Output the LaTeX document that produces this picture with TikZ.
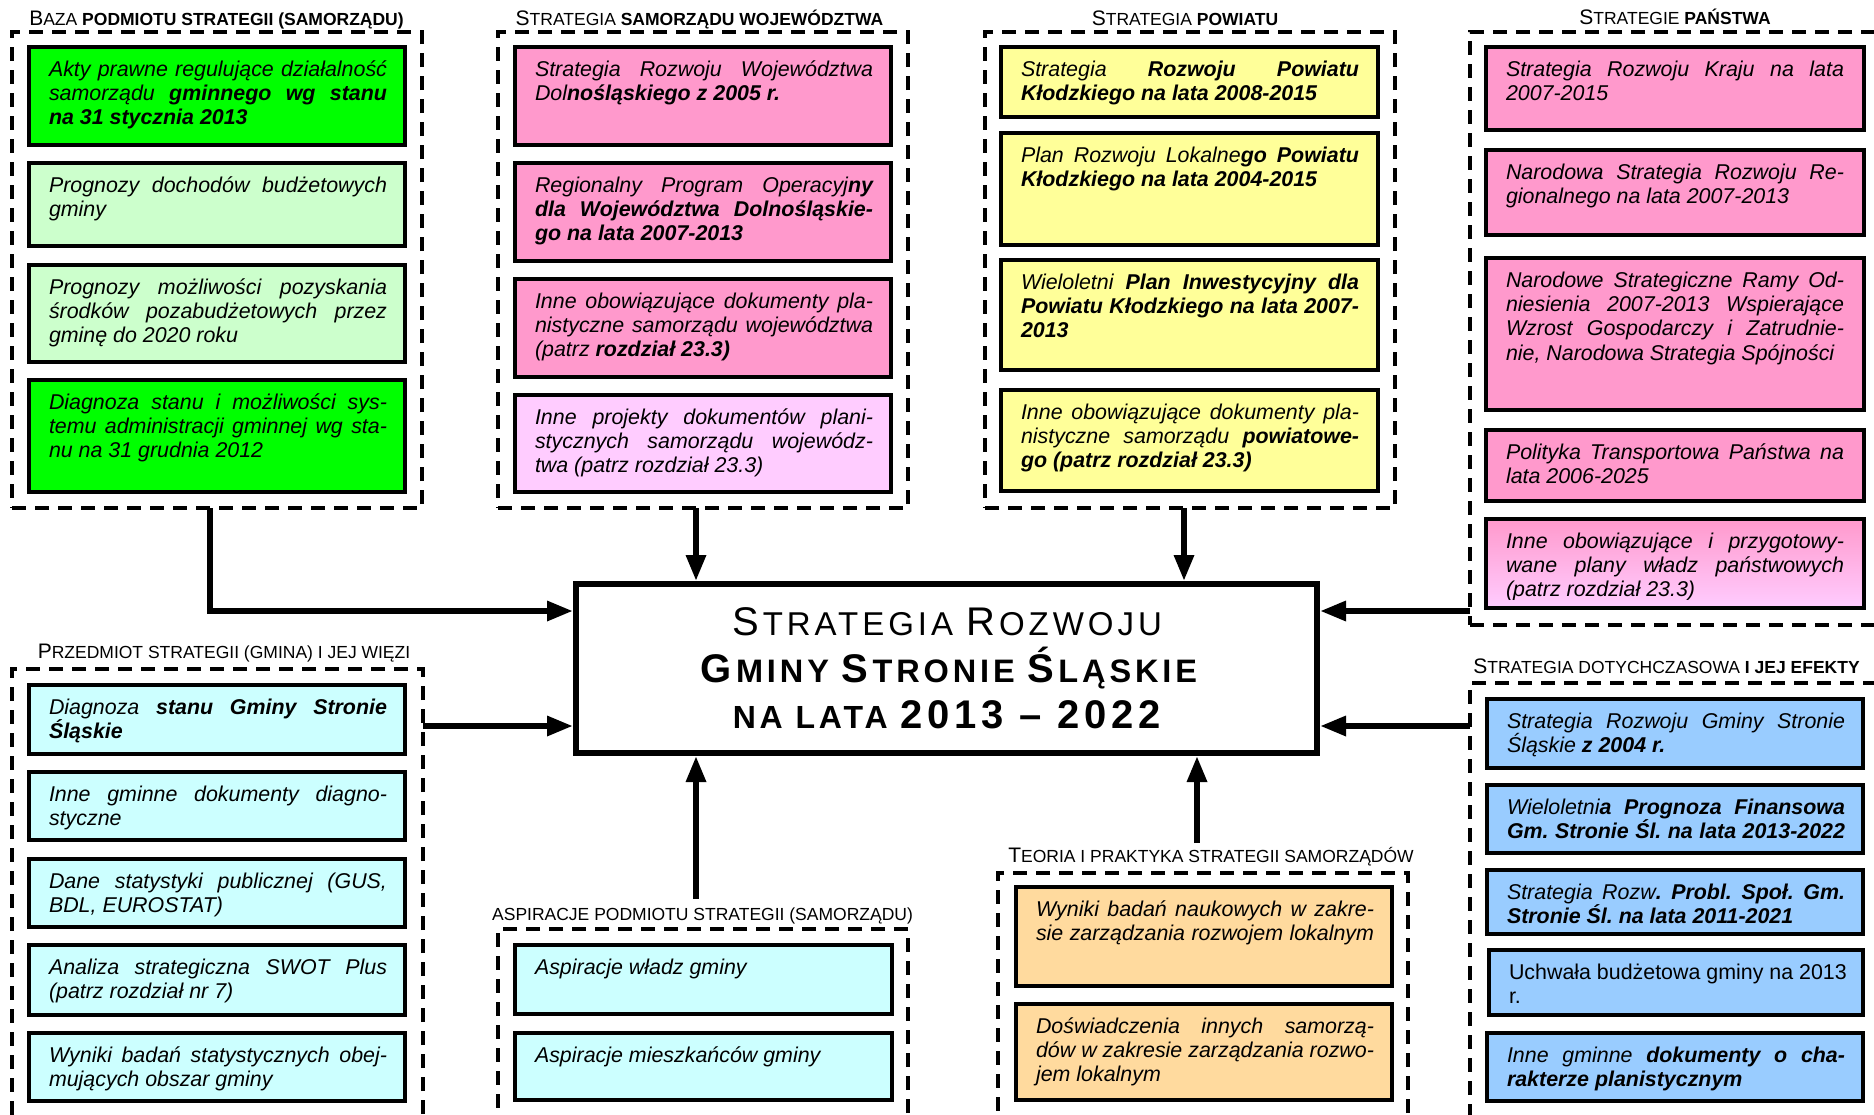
\documentclass[tikz,border=0pt]{standalone}
\usepackage{fontspec}
\setmainfont{Liberation Sans}
\newfontfamily\mtA[LetterSpace=12]{Liberation Sans}
\usetikzlibrary{arrows.meta,fit,calc}
\definecolor{cGreen}{HTML}{00FF00}
\definecolor{cLGreen}{HTML}{CCFFCC}
\definecolor{cPink}{HTML}{FF99CC}
\definecolor{cLav}{HTML}{FFCCFF}
\definecolor{cYellow}{HTML}{FFFF99}
\definecolor{cCyan}{HTML}{CCFFFF}
\definecolor{cOrange}{HTML}{FFDA9E}
\definecolor{cBlue}{HTML}{99CCFF}
\newcommand\fs[1]{\fontsize{#1pt}{#1pt}\selectfont}
\newcommand\jl[1]{\makebox[\hsize][s]{#1}\\}
\newcommand\sps{\spaceskip=2.97pt plus 8pt minus 1pt\relax}
\newcommand\tbg{\fontsize{10.5pt}{12pt}\selectfont}
\newcommand\tsm{\fontsize{8.75pt}{12pt}\selectfont}
\newcommand\txtfont{\fontsize{10.7pt}{12.2pt}\selectfont\itshape}
\tikzset{
  grp/.style={draw, line width=2pt, dash pattern=on 7pt off 4.5pt, inner sep=0pt, outer sep=0pt},
  doc/.style={draw, line width=2.25pt, inner sep=0pt, outer sep=0pt},
  txt/.style={inner sep=0pt, outer sep=0pt, text width=169pt, anchor=base west, font=\txtfont},
  ttl/.style={inner sep=0pt, anchor=base},
  mainbox/.style={draw, fill=white, line width=3pt, inner sep=0pt},
  mtxt/.style={inner sep=0pt, anchor=base},
  conn/.style={line width=3pt, -{Triangle[length=13pt,width=9.5pt]}}
}
\newcommand\docbox[7]{%
  \node[doc, fill=#6, fit={(#2+2,#3+2)(#4-2,#5-2)}] (#1) {};
  \node[txt] (#1t) at ($(#1.north west)+(20,29)$) {\sps #7};
}
\begin{document}
\frenchspacing
\begin{tikzpicture}[x=0.5pt,y=-0.5pt]
\path[use as bounding box] (0,0) rectangle (1874,1114);
\clip (0,0) rectangle (1874,1114);

% ---------- group frames ----------
\node[grp, fit={(12,32)(422,508)}] (baza) {};
\node[grp, fit={(498,32)(908,508)}] (woj) {};
\node[grp, fit={(985,32)(1395,508)}] (pow) {};
\node[grp, fit={(1470,32)(1882,625)}] (pan) {};
\node[grp, fit={(12,669)(423,1140)}] (prz) {};
\node[grp, fit={(498,929)(908,1140)}] (asp) {};
\node[grp, fit={(998,873)(1408,1140)}] (teo) {};
\node[grp, fit={(1470,683)(1882,1140)}] (dot) {};

% ---------- group titles ----------
\node[ttl] (bazaT) at (216.5,25) {\tbg B\tsm AZA \bfseries PODMIOTU STRATEGII (SAMORZĄDU)};
\node[ttl] (wojT) at (699.5,25) {\tbg S\tsm TRATEGIA \bfseries SAMORZĄDU WOJEWÓDZTWA};
\node[ttl] (powT) at (1185,25) {\tbg S\tsm TRATEGIA \bfseries POWIATU};
\node[ttl] (panT) at (1675,24) {\tbg S\tsm TRATEGIE \bfseries PAŃSTWA};
\node[ttl] (przT) at (224,658) {\tbg P\tsm RZEDMIOT STRATEGII (GMINA) I JEJ WIĘZI};
\node[ttl] (aspT) at (702.5,920) {\tsm ASPIRACJE PODMIOTU STRATEGII (SAMORZĄDU)};
\node[ttl] (teoT) at (1211,862) {\tbg T\tsm EORIA I PRAKTYKA STRATEGII SAMORZĄDÓW};
\node[ttl] (dotT) at (1666.5,673) {\tbg S\tsm TRATEGIA DOTYCHCZASOWA \bfseries I JEJ EFEKTY};

% ---------- baza ----------
\docbox{b1}{27}{45}{407}{147}{cGreen}{\jl{Akty prawne regulujące działalność}\jl{samorządu \textbf{gminnego wg stanu}}\textbf{na 31 stycznia 2013}}
\docbox{b2}{27}{161}{407}{248}{cLGreen}{\jl{Prognozy dochodów budżetowych}gminy}
\docbox{b3}{27}{263}{407}{364}{cLGreen}{\jl{Prognozy możliwości pozyskania}\jl{środków pozabudżetowych przez}gminę do 2020 roku}
\docbox{b4}{27}{378}{407}{494}{cGreen}{\jl{Diagnoza stanu i możliwości sys-}\jl{temu administracji gminnej wg sta-}nu na 31 grudnia 2012}

% ---------- wojewodztwo ----------
\docbox{w1}{513}{45}{893}{147}{cPink}{\jl{Strategia Rozwoju Województwa}Dol\textbf{nośląskiego z 2005 r.}}
\docbox{w2}{513}{161}{893}{263}{cPink}{\jl{Regionalny Program Operacyj\textbf{ny}}\jl{\textbf{dla Województwa Dolnośląskie-}}\textbf{go na lata 2007-2013}}
\docbox{w3}{513}{277}{893}{379}{cPink}{\jl{Inne obowiązujące dokumenty pla-}\jl{nistyczne samorządu województwa}(patrz \textbf{rozdział 23.3)}}
\docbox{w4}{513}{393}{893}{494}{cLav}{\jl{Inne projekty dokumentów plani-}\jl{stycznych samorządu wojewódz-}twa (patrz rozdział 23.3)}

% ---------- powiat ----------
\docbox{p1}{999}{45}{1380}{119}{cYellow}{\jl{Strategia \textbf{Rozwoju Powiatu}}\textbf{Kłodzkiego na lata 2008-2015}}
\docbox{p2}{999}{131}{1380}{247}{cYellow}{\jl{Plan Rozwoju Lokalne\textbf{go Powiatu}}\textbf{Kłodzkiego na lata 2004-2015}}
\docbox{p3}{999}{258}{1380}{372}{cYellow}{\jl{Wieloletni \textbf{Plan Inwestycyjny dla}}\jl{\textbf{Powiatu Kłodzkiego na lata 2007-}}\textbf{2013}}
\docbox{p4}{999}{388}{1380}{493}{cYellow}{\jl{Inne obowiązujące dokumenty pla-}\jl{nistyczne samorządu \textbf{powiatowe-}}\textbf{go (patrz rozdział 23.3)}}

% ---------- panstwo ----------
\docbox{s1}{1484}{45}{1866}{132}{cPink}{\jl{Strategia Rozwoju Kraju na lata}2007-2015}
\docbox{s2}{1484}{148}{1866}{237}{cPink}{\jl{Narodowa Strategia Rozwoju Re-}gionalnego na lata 2007-2013}
\docbox{s3}{1484}{256}{1866}{412}{cPink}{\jl{Narodowe Strategiczne Ramy Od-}\jl{niesienia 2007-2013 Wspierające}\jl{Wzrost Gospodarczy i Zatrudnie-}nie, Narodowa Strategia Spójności}
\docbox{s4}{1484}{428}{1866}{503}{cPink}{\jl{Polityka Transportowa Państwa na}lata 2006-2025}
\node[doc, top color=cPink, bottom color=cLav, fit={(1486,519)(1864,608)}] (s5) {};
\begin{scope}
\clip (1486,519) rectangle (1864,599);
\node[txt] (s5t) at ($(s5.north west)+(20,29)$) {\sps\jl{Inne obowiązujące i przygotowy-}\jl{wane plany władz państwowych}(patrz rozdział 23.3)};
\end{scope}

% ---------- przedmiot ----------
\docbox{q1}{27}{683}{407}{756}{cCyan}{\jl{Diagnoza \textbf{stanu Gminy Stronie}}\textbf{Śląskie}}
\docbox{q2}{27}{770}{407}{842}{cCyan}{\jl{Inne gminne dokumenty diagno-}styczne}
\docbox{q3}{27}{857}{407}{929}{cCyan}{\jl{Dane statystyki publicznej (GUS,}BDL, EUROSTAT)}
\docbox{q4}{27}{943}{407}{1017}{cCyan}{\jl{Analiza strategiczna SWOT Plus}(patrz rozdział nr 7)}
\docbox{q5}{27}{1031}{407}{1103}{cCyan}{\jl{Wyniki badań statystycznych obej-}mujących obszar gminy}

% ---------- aspiracje ----------
\docbox{a1}{513}{943}{894}{1016}{cCyan}{Aspiracje władz gminy}
\docbox{a2}{513}{1031}{894}{1102}{cCyan}{Aspiracje mieszkańców gminy}

% ---------- teoria ----------
\docbox{t1}{1014}{885}{1394}{988}{cOrange}{\jl{Wyniki badań naukowych w zakre-}\jl{sie zarządzania rozwojem lokalnym}}
\docbox{t2}{1014}{1002}{1394}{1102}{cOrange}{\jl{Doświadczenia innych samorzą-}\jl{dów w zakresie zarządzania rozwo-}jem lokalnym}

% ---------- dotychczasowa ----------
\docbox{d1}{1485}{697}{1865}{770}{cBlue}{\jl{Strategia Rozwoju Gminy Stronie}Śląskie \textbf{z 2004 r.}}
\docbox{d2}{1485}{783}{1865}{855}{cBlue}{\jl{Wieloletni\textbf{a Prognoza Finansowa}}\jl{\textbf{Gm. Stronie Śl. na lata 2013-2022}}}
\docbox{d3}{1485}{868}{1865}{936}{cBlue}{\jl{Strategia Rozw\textbf{. Probl. Społ. Gm.}}\textbf{Stronie Śl. na lata 2011-2021}}
\docbox{d4}{1487}{948}{1865}{1017}{cBlue}{\upshape\mbox{Uchwała budżetowa gminy na 2013}\\r.}
\docbox{d5}{1485}{1031}{1865}{1103}{cBlue}{\jl{Inne gminne \textbf{dokumenty o cha-}}\textbf{rakterze planistycznym}}

% ---------- main ----------
\node[mainbox, fit={(576,584)(1317,753)}] (main) {};
\node[mtxt] (mt1) at (947,635) {\mtA\fs{20}S\kern2pt\fs{16.5}TRATEGIA \fs{20}R\kern2pt\fs{16.5}OZWOJU};
\node[mtxt] (mt2) at (949,682) {\mtA\bfseries\fs{20}G\kern2pt\fs{16.25}MINY \fs{20}S\kern2pt\fs{16.25}TRONIE \fs{20}Ś\kern2pt\fs{16.25}LĄSKIE};
\node[mtxt] (mt3) at (947,728) {\mtA\bfseries\fs{16}NA LATA \fs{20}2013 – 2022};

% ---------- connector end points ----------
\coordinate (mL1) at (573,611);
\coordinate (mL2) at (573,726);
\coordinate (mR1) at (1320,611);
\coordinate (mR2) at (1320,726);
\coordinate (mT1) at (696,581);
\coordinate (mT2) at (1184,581);
\coordinate (mB1) at (696,756);
\coordinate (mB2) at (1197,756);
\coordinate (aspS) at (696,899);
\coordinate (teoS) at (1197,843);

% ---------- connectors ----------
\draw[conn] ([xshift=-3.5pt]baza.south) |- (mL1);
\draw[conn] (woj.south -| mT1) -- (mT1);
\draw[conn] (pow.south -| mT2) -- (mT2);
\draw[conn] (pan.west |- mR1) -- (mR1);
\draw[conn] (dot.west |- mR2) -- (mR2);
\draw[conn] (prz.east |- mL2) -- (mL2);
\draw[conn] (aspS) -- (mB1);
\draw[conn] (teoS) -- (mB2);
\end{tikzpicture}
\end{document}
